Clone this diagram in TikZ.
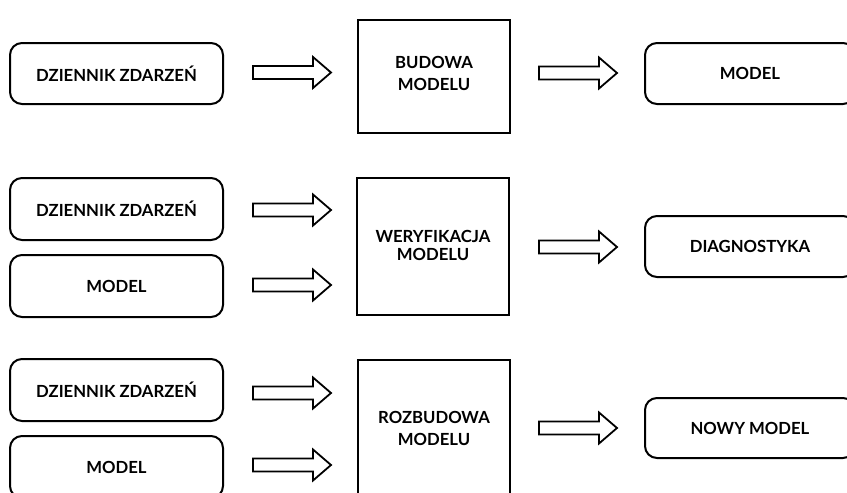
\documentclass[tikz,border=0pt]{standalone}
\usepackage{fontspec}
\setmainfont{Lato}
\usetikzlibrary{calc}
\newcommand\boxfont{\fontsize{16.7}{22}\selectfont\bfseries}
\begin{document}
\begin{tikzpicture}[x=1pt,y=-1pt,
  every node/.style={font=\boxfont, align=center, inner sep=0pt},
  roundbox/.style={draw, line width=2pt, rounded corners=12pt, minimum width=213pt, minimum height=61pt},
  outbox/.style={draw, line width=2pt, rounded corners=12pt, minimum width=210pt, minimum height=61pt},
  stagebox/.style={draw, line width=2pt, minimum width=152pt},
  blockarrow/.pic={\draw[line width=1.8pt, line join=miter]
     (0,-6.5) -- (60,-6.5) -- (60,-15.5) -- (78,0) -- (60,15.5) -- (60,6.5) -- (0,6.5) -- cycle;}
]
\useasboundingbox (0,0) rectangle (847,493);
\clip (0,0) rectangle (847,493);

% building the model
\node[roundbox] (log1) at (116.5,73.5) {DZIENNIK ZDARZEŃ};
\node[stagebox, minimum height=113pt] (build) at (434,76.5) {};
\node (buildtxt) at (434,73.5) {BUDOWA\\MODELU};
\node[outbox] (model1) at (750,73.5) {MODEL};
\pic at ($(log1.east)+(29,-1)$) {blockarrow};
\pic at ($(build.east)+(28,-3.5)$) {blockarrow};

% verifying the model
\node[roundbox, minimum height=62pt] (log2) at (116.5,209) {DZIENNIK ZDARZEŃ};
\node[roundbox, minimum height=62pt] (model2) at (116.5,286) {MODEL};
\node[stagebox, minimum height=137pt] (verify) at (433,246.5) {};
\node[font=\fontsize{16.7}{18}\selectfont\bfseries] (verifytxt) at (433,245.5) {WERYFIKACJA\\MODELU};
\node[outbox] (diag) at (750,246.5) {DIAGNOSTYKA};
\pic at ($(log2.east)+(29,1)$) {blockarrow};
\pic at ($(model2.east)+(29,-1)$) {blockarrow};
\pic at ($(verify.east)+(29,0.5)$) {blockarrow};

% extending the model
\node[roundbox, minimum height=62pt] (log3) at (116.5,390) {DZIENNIK ZDARZEŃ};
\node[roundbox, minimum height=62pt] (model3) at (116.5,467) {MODEL};
\node[stagebox, minimum height=137pt] (extend) at (434,428.5) {};
\node (extendtxt) at (434,428.5) {ROZBUDOWA\\MODELU};
\node[outbox, minimum height=60pt] (newmodel) at (750,428) {NOWY MODEL};
\pic at ($(log3.east)+(29,3)$) {blockarrow};
\pic at ($(model3.east)+(29,-2)$) {blockarrow};
\pic at ($(extend.east)+(28,-0.5)$) {blockarrow};
\end{tikzpicture}
\end{document}
